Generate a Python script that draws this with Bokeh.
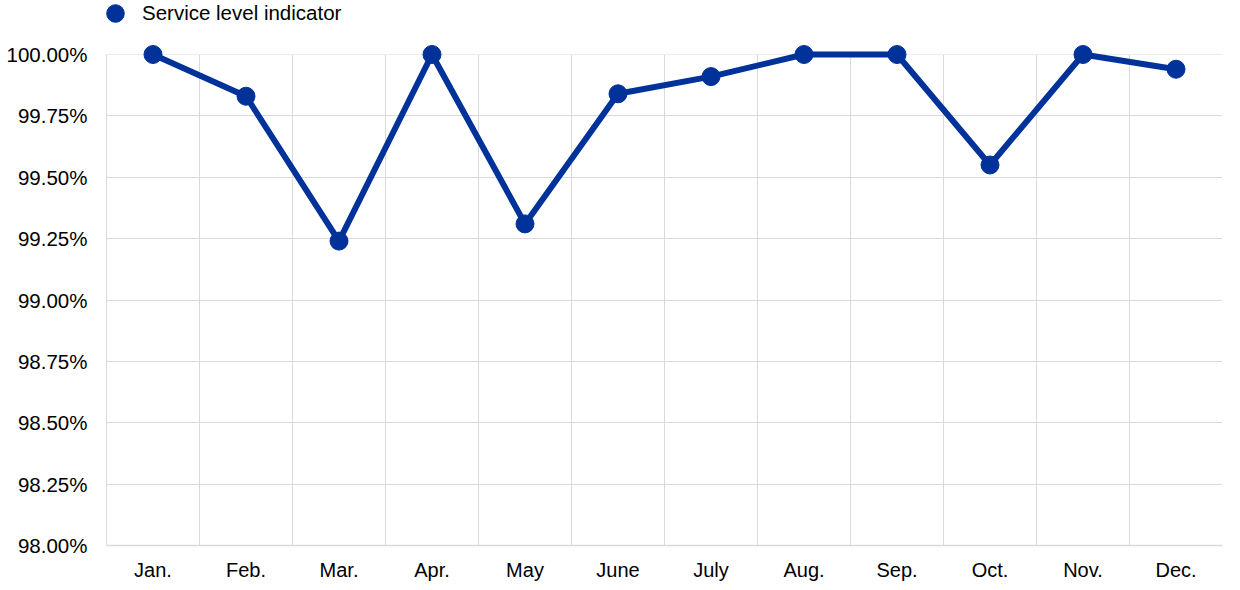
from bokeh.plotting import figure
from bokeh.models import (ColumnDataSource, FactorRange, Range1d, FixedTicker,
                          PrintfTickFormatter, Legend, LegendItem, BoxAnnotation)
from bokeh.embed import file_html
from bokeh.resources import INLINE

months = ["Jan.", "Feb.", "Mar.", "Apr.", "May", "June", "July",
          "Aug.", "Sep.", "Oct.", "Nov.", "Dec."]
service_level = [100.00, 99.83, 99.24, 100.00, 99.31, 99.84, 99.91,
                 100.00, 100.00, 99.55, 100.00, 99.94]
y_ticks = [98.00, 98.25, 98.50, 98.75, 99.00, 99.25, 99.50, 99.75, 100.00]
series_name = "Service level indicator"

BLUE = "#003299"
GRID = "#d9d9d9"
FONT = "Liberation Sans"

Y_MIN, Y_MAX = 98.0, 100.0
PLOT_H = 491      # pixel height of 98%..100%
HEADROOM = 54     # pixels above the 100% line (legend lives there)
LEG_H = 44
y_top = Y_MIN + (Y_MAX - Y_MIN) * (PLOT_H + HEADROOM) / PLOT_H

src = ColumnDataSource(dict(month=months, value=service_level))

p = figure(x_range=FactorRange(*months), y_range=Range1d(Y_MIN, y_top),
           frame_width=1116, frame_height=PLOT_H + HEADROOM,
           min_border_left=106, min_border_right=16,
           min_border_top=0, min_border_bottom=44,
           output_backend="svg", toolbar_location=None)
p.outline_line_color = None
p.background_fill_color = "white"
p.border_fill_color = "white"

# grid
p.xgrid.ticker = FixedTicker(ticks=list(range(0, len(months) + 1)))
p.xgrid.grid_line_color = GRID
p.ygrid.ticker = FixedTicker(ticks=y_ticks)
p.ygrid.grid_line_color = GRID

# white cover hiding grid above the 100% line
cover = BoxAnnotation(bottom=Y_MAX, fill_color="white", fill_alpha=1,
                      line_color=None, level="underlay")
p.add_layout(cover)

line_r = p.line("month", "value", source=src, line_color=BLUE, line_width=6)
pts_r = p.scatter("month", "value", source=src, size=18,
                  fill_color=BLUE, line_color=BLUE)

# y axis
p.yaxis.ticker = FixedTicker(ticks=y_ticks)
p.yaxis.formatter = PrintfTickFormatter(format="%.2f%%")
p.yaxis.bounds = (Y_MIN, Y_MAX)
p.yaxis.axis_line_color = GRID
p.yaxis.major_tick_line_color = None
p.yaxis.minor_tick_line_color = None
p.yaxis.major_tick_out = 0
p.yaxis.major_label_standoff = 19
p.yaxis.major_label_text_font = FONT
p.yaxis.major_label_text_font_size = "20.5px"
p.yaxis.major_label_text_color = "black"

# x axis
p.xaxis.axis_line_color = GRID
p.xaxis.axis_line_width = 1.5
p.xaxis.major_tick_line_color = None
p.xaxis.major_tick_out = 0
p.xaxis.major_label_standoff = 13
p.xaxis.major_label_text_font = FONT
p.xaxis.major_label_text_font_size = "20px"
p.xaxis.major_label_text_color = "black"

legend = Legend(items=[LegendItem(label=series_name, renderers=[pts_r])],
                location=(-13, PLOT_H + HEADROOM - 35),
                orientation="horizontal",
                padding=0, margin=0, spacing=0,
                glyph_width=LEG_H, glyph_height=LEG_H, label_standoff=5,
                label_text_font=FONT, label_text_font_size="20.5px",
                label_text_color="black",
                background_fill_alpha=0, border_line_alpha=0)
p.add_layout(legend, "center")

open("out.html", "w").write(file_html(p, INLINE))
